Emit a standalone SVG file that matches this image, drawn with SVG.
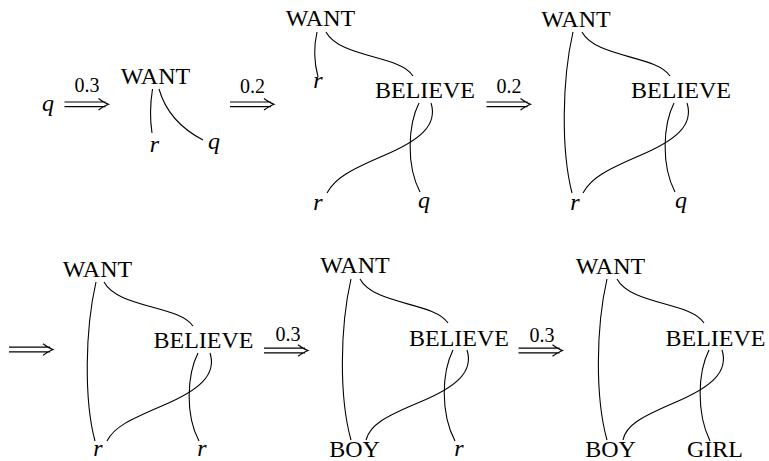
<svg xmlns="http://www.w3.org/2000/svg" xmlns:xlink="http://www.w3.org/1999/xlink" width="769" height="461" viewBox="0 0 769 461">
<style>
.n{font-family:"Liberation Serif","Times New Roman",serif;font-size:24px;fill:#000;text-anchor:middle}
.v{font-family:"Liberation Serif","Times New Roman",serif;font-size:24px;font-style:italic;fill:#000;text-anchor:middle}
.l{font-family:"Liberation Serif","Times New Roman",serif;font-size:20px;fill:#000;text-anchor:middle}
.e{fill:none;stroke:#000;stroke-width:1.1}
.a{fill:none;stroke:#000;stroke-width:1.2}
</style>
<defs>
<g id="dar">
<path class="a" d="M-22,-2.3 H19 M-22,2.3 H19 M12,-5.8 Q18,-1.5 22,0 Q18,1.5 12,5.8"/>
</g>
</defs>
<rect width="769" height="461" fill="#fff"/>

<g id="transitions">
<use xlink:href="#dar" transform="translate(86.5,104.3)"/>
<text class="l" x="87" y="92">0.3</text>
<use xlink:href="#dar" transform="translate(252,104.3)"/>
<text class="l" x="252.5" y="93">0.2</text>
<use xlink:href="#dar" transform="translate(508.5,104.3)"/>
<text class="l" x="509" y="93">0.2</text>
<use xlink:href="#dar" transform="translate(31,349.5)"/>
<use xlink:href="#dar" transform="translate(286,350.5)"/>
<text class="l" x="288" y="341">0.3</text>
<use xlink:href="#dar" transform="translate(540.5,350.5)"/>
<text class="l" x="542" y="342">0.3</text>
</g>

<g id="connectors">
<path class="e" d="M152.5,89 C150,105 150,120 152,133"/>
<path class="e" d="M159,89 C165,110 180,128 203,140"/>

<path class="e" d="M317,32 C314,45 314,62 318,77"/>
<path class="e" d="M326,32 C340,58 400,55 413,76"/>
<path class="e" d="M419,103 C408,125 406,165 420,192"/>
<path class="e" d="M431,103 C438,125 420,140 385,155 S335,178 327,193"/>

<path class="e" d="M573,32 C562,80 561,150 572,193"/>
<path class="e" d="M582,32 C596,58 656,55 670,76"/>
<path class="e" d="M674,103 C663,125 661,165 675,192"/>
<path class="e" d="M687,103 C694,125 676,140 641,155 S591,178 583,193"/>

<path class="e" d="M96,282 C85,330 84,400 95,441"/>
<path class="e" d="M104,282 C118,308 178,305 193,326"/>
<path class="e" d="M198,353 C187,375 185,415 199,441"/>
<path class="e" d="M210,353 C217,375 199,390 164,405 S114,427 107,441"/>

<path class="e" d="M351,279 C340,327 339,397 351,440"/>
<path class="e" d="M360,279 C374,305 434,302 448,323"/>
<path class="e" d="M453,350 C442,372 440,412 455,441"/>
<path class="e" d="M467,350 C474,372 456,387 420,402 S370,425 366,440"/>

<path class="e" d="M607,279 C596,327 595,397 607,440"/>
<path class="e" d="M617,279 C631,305 691,302 704,323"/>
<path class="e" d="M709,350 C698,372 696,412 710,441"/>
<path class="e" d="M722,350 C729,372 711,387 676,402 S626,425 623,440"/>
</g>

<g id="t0-q"><text class="v" x="48" y="111">q</text></g>

<g id="t1-want"><text class="n" x="155.5" y="83.5">WANT</text></g>
<g id="t1-r"><text class="v" x="154.5" y="152">r</text></g>
<g id="t1-q"><text class="v" x="214" y="149">q</text></g>

<g id="t2-want"><text class="n" x="320.5" y="26">WANT</text></g>
<g id="t2-r1"><text class="v" x="318" y="88">r</text></g>
<g id="t2-believe"><text class="n" x="425" y="98">BELIEVE</text></g>
<g id="t2-r2"><text class="v" x="318" y="210">r</text></g>
<g id="t2-q"><text class="v" x="424" y="208">q</text></g>

<g id="t3-want"><text class="n" x="576" y="27">WANT</text></g>
<g id="t3-believe"><text class="n" x="681" y="98">BELIEVE</text></g>
<g id="t3-r"><text class="v" x="575" y="210">r</text></g>
<g id="t3-q"><text class="v" x="681" y="208">q</text></g>

<g id="t4-want"><text class="n" x="97.5" y="277">WANT</text></g>
<g id="t4-believe"><text class="n" x="203.5" y="348">BELIEVE</text></g>
<g id="t4-r1"><text class="v" x="98" y="456">r</text></g>
<g id="t4-r2"><text class="v" x="202" y="456">r</text></g>

<g id="t5-want"><text class="n" x="355" y="273">WANT</text></g>
<g id="t5-believe"><text class="n" x="459" y="346">BELIEVE</text></g>
<g id="t5-boy"><text class="n" x="354.5" y="457">BOY</text></g>
<g id="t5-r"><text class="v" x="459" y="456">r</text></g>

<g id="t6-want"><text class="n" x="610.5" y="274">WANT</text></g>
<g id="t6-believe"><text class="n" x="715.5" y="346">BELIEVE</text></g>
<g id="t6-boy"><text class="n" x="610.5" y="457">BOY</text></g>
<g id="t6-girl"><text class="n" x="715" y="457">GIRL</text></g>
</svg>
